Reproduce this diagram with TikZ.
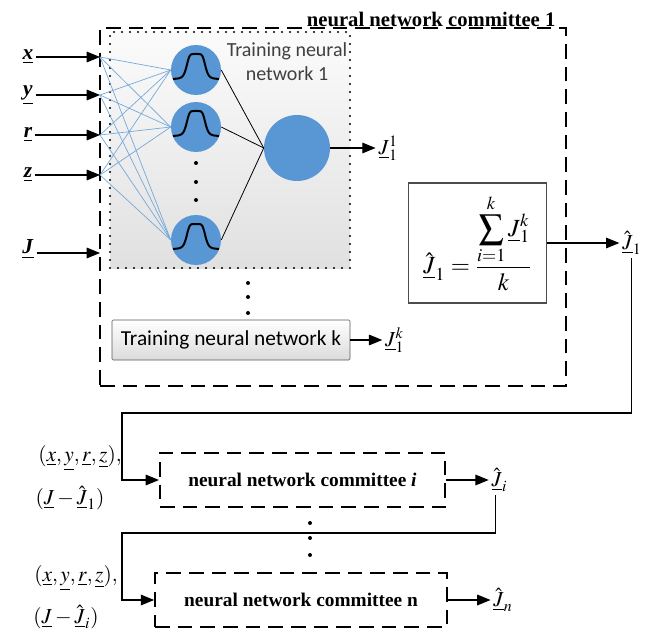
\documentclass[tikz,border=0pt]{standalone}
\usepackage{amsmath}
\usepackage{mathptmx}
\usepackage{fontspec}
\setmainfont{Liberation Serif}
\newfontfamily\calfont{Carlito}
\usepackage{xcolor}
\usetikzlibrary{arrows.meta, positioning}
\definecolor{neuronblue}{RGB}{88,150,212}
\newcommand{\uv}[1]{\underline{#1}}
\newcommand{\bv}[1]{\underline{\textbf{\textit{#1}}}}

\begin{document}
\begin{tikzpicture}[x=0.75pt, y=-0.75pt,
    line/.style={draw, line width=0.8pt, -{Triangle[length=10pt, width=8pt]}},
    synapse/.style={draw=neuronblue!85, line width=0.5pt},
    neuron/.style={circle, fill=neuronblue, inner sep=0pt, minimum size=37.5pt},
    committee/.style={rectangle, draw, line width=1.3pt, dash pattern=on 11pt off 6pt, font=\fontsize{14.5}{16}\selectfont\bfseries},
    trainbox/.style={rectangle, draw=gray!70!black, rounded corners=1pt, top color=white, bottom color=gray!28, font=\calfont\fontsize{16}{18}\selectfont},
    mathlabel/.style={font=\fontsize{16}{18}\selectfont, inner sep=2pt}]

    \useasboundingbox (0,0) rectangle (665,635);

    % committee 1
    \node [committee, minimum width=349.5pt, minimum height=268.5pt] (nnc1) at (333,207) {};
    \node [font=\fontsize{15.5}{17}\selectfont\bfseries, anchor=south east, inner sep=1pt] (nnc1title) at (557,28) {neural network committee 1};
    \node [draw, line width=1.6pt, dash pattern=on 0pt off 6pt, line cap=round, top color=gray!3, bottom color=gray!24, minimum width=180pt, minimum height=177pt] (net1) at (230,150) {};
    \node [font=\calfont\fontsize{15}{18}\selectfont, text=black!75, align=center] (net1title) at (287,62) {Training neural\\network 1};

    % inputs
    \node [mathlabel] (lx) at (28,57) {\bv{x}};
    \node [mathlabel] (ly) at (28,95) {\bv{y}};
    \node [mathlabel] (lr) at (28,135) {\bv{r}};
    \node [mathlabel] (lz) at (28,175) {\bv{z}};
    \node [mathlabel] (lJ) at (28,249) {\bv{J}};
    \coordinate (inx) at (100,57);
    \coordinate (iny) at (100,95);
    \coordinate (inr) at (100,135);
    \coordinate (inz) at (100,175);
    \coordinate (inJ) at (100,253);
    \path [line] (lx) -- (inx);
    \path [line] (ly) -- (iny);
    \path [line] (lr) -- (inr);
    \path [line] (lz) -- (inz);
    \path [line] (lJ.east |- inJ) -- (inJ);

    % neurons
    \node [neuron] (h1) at (196,70) {};
    \node [neuron] (h2) at (196,127) {};
    \node [neuron] (h3) at (196,240) {};
    \node [neuron, minimum size=49.5pt] (out) at (297,148) {};
    \foreach \y in {163,182,200}
        \fill (196,\y) circle (1.5pt);

    \foreach \i in {inx,iny,inr,inz}
        \foreach \h in {h1,h2,h3}
            \path [synapse] (\i) -- (\h.west);
    \foreach \h in {h1,h2,h3} {
        \draw [line width=0.6pt] (\h.east) -- (out.west);
        \draw [line width=1.5pt, shift={(\h)}] plot [domain=-23:23, samples=47, smooth] (\x,{9-25/(1+(\x/9.5)^6)});
    }

    \node [mathlabel, right=34pt of out] (j11) {$\uv{J}_1^1$};
    \path [line] (out) -- (j11);

    % training network k
    \foreach \y in {283,297,313}
        \fill (248,\y) circle (1.5pt);
    \node [trainbox, minimum width=178.5pt, minimum height=30pt] (netk) at (231,340) {Training neural network k};
    \node [mathlabel, right=24pt of netk] (jk1) {$\uv{J}_1^k$};
    \path [line] (netk) -- (jk1);

    % average
    \node [draw=gray!60!black, line width=0.8pt, minimum width=104pt, minimum height=90pt, font=\fontsize{18.5}{20}\selectfont] (avg) at (477.5,243)
        {$\hat{\uv{J}}_1 = \dfrac{\displaystyle\sum_{i=1}^{k}\uv{J}_1^k}{k}$};
    \node [mathlabel, right=54pt of avg] (jh1) {$\hat{\uv{J}}_1$};
    \path [line] (avg) -- (jh1);

    % committee i
    \coordinate (c1) at (122,413);
    \node [committee, minimum width=214pt, minimum height=41pt] (nnci) at (302.5,480) {neural network committee \textit{i}};
    \node [mathlabel, right=32pt of nnci] (jhi) {$\hat{\uv{J}}_i$};
    \path [line] (nnci) -- (jhi);
    \path [line] (jh1.south) |- (c1) |- (nnci.west);
    \node [mathlabel] (ini1) at (80,458) {$(\uv{x}, \uv{y}, \uv{r}, \uv{z}),$};
    \node [mathlabel] (ini2) at (70,498) {$(\uv{J} - \hat{\uv{J}}_1)$};

    % committee n
    \foreach \y in {523,538,555}
        \fill (310,\y) circle (1.5pt);
    \coordinate (c2) at (122,533);
    \node [committee, minimum width=219pt, minimum height=40.5pt] (nncn) at (301,600) {neural network committee n};
    \node [mathlabel, right=32pt of nncn] (jhn) {$\hat{\uv{J}}_n$};
    \path [line] (nncn) -- (jhn);
    \path [line] ([xshift=-3pt]jhi.south) |- (c2) |- (nncn.west);
    \node [mathlabel] (inn1) at (76,578) {$(\uv{x}, \uv{y}, \uv{r}, \uv{z}),$};
    \node [mathlabel] (inn2) at (66,617) {$(\uv{J} - \hat{\uv{J}}_i)$};
\end{tikzpicture}
\end{document}
